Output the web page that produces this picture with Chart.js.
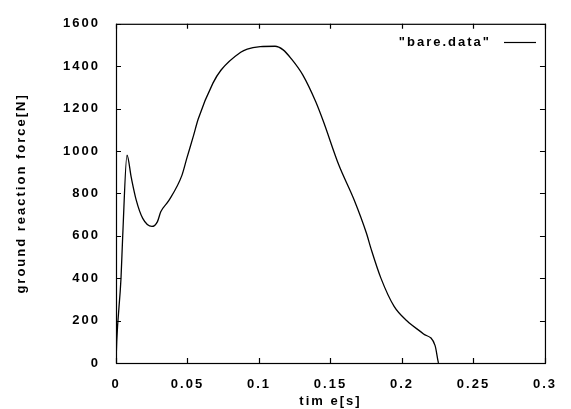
<!DOCTYPE html>
<html>
<head>
<meta charset="utf-8">
<script src="https://cdn.jsdelivr.net/npm/chart.js@4/dist/chart.umd.min.js"></script>
<style>
html,body{margin:0;padding:0;background:#fff;}
#c{display:block;}
</style>
</head>
<body>
<canvas id="c" width="571" height="409"></canvas>
<script>
// ---- data ----
const timeS = [0, 0.0005, 0.0035, 0.0047, 0.0077, 0.0107, 0.0142, 0.0187, 0.0251, 0.029, 0.0313, 0.037, 0.0461, 0.0495, 0.0541, 0.0575, 0.0678, 0.0735, 0.0872, 0.0918, 0.1009, 0.1112, 0.1169, 0.1226, 0.1306, 0.1397, 0.145, 0.1557, 0.1665, 0.1751, 0.1785, 0.1854, 0.1945, 0.2036, 0.2151, 0.2231, 0.2253, 0.2255];
const forceN = [0, 100, 400, 600, 980, 874, 767, 682, 644, 667, 713, 767, 885, 965, 1070, 1151, 1320, 1382, 1466, 1481, 1492, 1494, 1477, 1435, 1359, 1232, 1140, 936, 770, 613, 536, 398, 267, 198, 137, 83, 6, 0];
const xTickValues = [0, 0.05, 0.1, 0.15, 0.2, 0.25, 0.3];
const xTickLabels = ["0", "0.05", "0.1", "0.15", "0.2", "0.25", "0.3"];
const yTickValues = [0, 200, 400, 600, 800, 1000, 1200, 1400, 1600];
const yTickLabels = ["0", "200", "400", "600", "800", "1000", "1200", "1400", "1600"];
const seriesName = '"bare.data"';
const xTitle = 'tim e[s]';
const yTitle = 'ground reaction force[N]';

const points = timeS.map((t, i) => ({x: t, y: forceN[i]}));
const FONT = '"Liberation Sans", Arial, sans-serif';

const spacingPlugin = {
  id: 'spacing',
  beforeInit(chart){ chart.ctx.letterSpacing = '2px'; },
  beforeLayout(chart){ chart.ctx.letterSpacing = '2px'; },
  beforeDraw(chart){ chart.ctx.letterSpacing = '2px'; }
};

const framePlugin = {
  id: 'frame',
  afterDraw(chart){
    const ctx = chart.ctx;
    const a = chart.chartArea;
    const xs = chart.scales.x, ys = chart.scales.y;
    ctx.save();
    ctx.strokeStyle = '#000';
    ctx.lineWidth = 1.2;
    ctx.strokeRect(a.left + 0.5, a.top + 0.5, a.right - a.left, a.bottom - a.top);
    const L = 5;
    ctx.beginPath();
    xTickValues.forEach(v => {
      const px = Math.round(xs.getPixelForValue(v)) + 0.5;
      ctx.moveTo(px, a.bottom); ctx.lineTo(px, a.bottom - L);
      ctx.moveTo(px, a.top); ctx.lineTo(px, a.top + L);
    });
    yTickValues.forEach(v => {
      const py = Math.round(ys.getPixelForValue(v)) + 0.5;
      ctx.moveTo(a.left, py); ctx.lineTo(a.left + L, py);
      ctx.moveTo(a.right, py); ctx.lineTo(a.right - L, py);
    });
    ctx.stroke();
    // legend
    ctx.letterSpacing = '2px';
    ctx.font = 'bold 13px ' + FONT;
    ctx.fillStyle = '#000';
    ctx.textAlign = 'right';
    ctx.textBaseline = 'middle';
    ctx.fillText(seriesName, 491, 42);
    ctx.beginPath();
    ctx.lineWidth = 1.2;
    ctx.moveTo(504, 42.5); ctx.lineTo(536, 42.5);
    ctx.stroke();
    ctx.restore();
  }
};

new Chart(document.getElementById('c'), {
  type: 'line',
  data: {
    datasets: [{
      label: seriesName,
      data: points,
      borderColor: '#000',
      borderWidth: 1.3,
      pointRadius: 0,
      cubicInterpolationMode: 'monotone',
      fill: false
    }]
  },
  options: {
    responsive: false,
    animation: false,
    devicePixelRatio: 1,
    layout: {padding: {top: 16, right: 17, left: 0, bottom: 0}},
    plugins: {legend: {display: false}, tooltip: {enabled: false}},
    scales: {
      x: {
        type: 'linear', min: 0, max: 0.3,
        afterBuildTicks(s){ s.ticks = xTickValues.map(v => ({value: v})); },
        afterFit(s){ s.height = 46; },
        ticks: {
          callback: (v, i) => xTickLabels[i],
          color: '#000', padding: 14, maxRotation: 0, autoSkip: false,
          font: {family: FONT, size: 13, weight: 'bold'}
        },
        grid: {display: false, drawTicks: false},
        border: {display: false},
        title: {display: true, text: xTitle, color: '#000', padding: {top: 0, bottom: 0},
          font: {family: FONT, size: 13, weight: 'bold'}}
      },
      y: {
        type: 'linear', min: 0, max: 1600,
        afterBuildTicks(s){ s.ticks = yTickValues.map(v => ({value: v})); },
        afterFit(s){ s.width = 116; },
        ticks: {
          callback: (v, i) => yTickLabels[i],
          color: '#000', padding: 16, autoSkip: false,
          font: {family: FONT, size: 13, weight: 'bold'}
        },
        grid: {display: false, drawTicks: false},
        border: {display: false},
        title: {display: true, text: yTitle, color: '#000', padding: {top: 14, bottom: 0},
          font: {family: FONT, size: 13, weight: 'bold'}}
      }
    }
  },
  plugins: [spacingPlugin, framePlugin]
});
</script>
</body>
</html>
